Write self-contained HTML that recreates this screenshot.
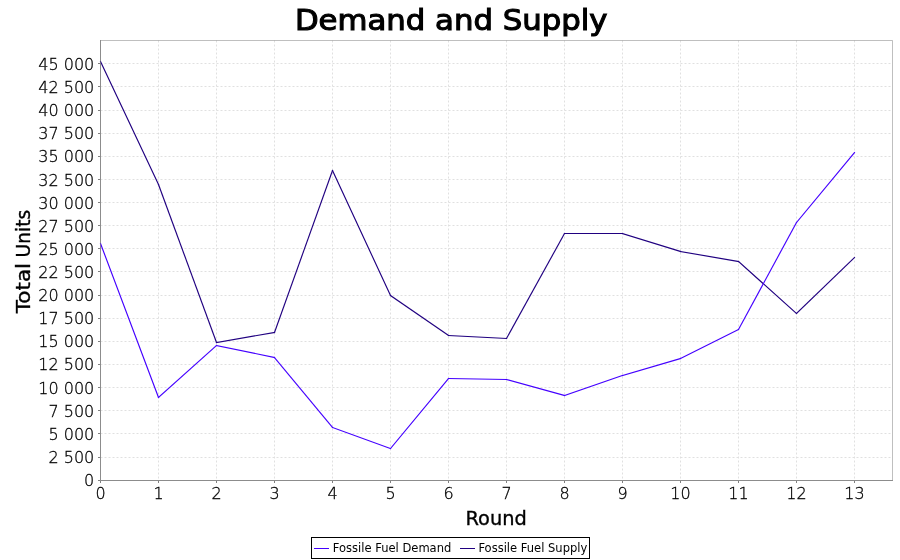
<!DOCTYPE html>
<html><head><meta charset="utf-8"><title>Demand and Supply</title>
<style>
html,body{margin:0;padding:0;background:#fff;}
svg{display:block;}
text{font-family:'DejaVu Sans', 'Liberation Sans', sans-serif;fill:#000;}
</style></head><body>
<svg width="900" height="560" viewBox="0 0 900 560">
<rect x="0" y="0" width="900" height="560" fill="#fff"/>
<text x="451.2" y="30" text-anchor="middle" font-size="29" stroke="#000" stroke-width="1.1" textLength="312.6" lengthAdjust="spacingAndGlyphs">Demand and Supply</text>

<g stroke="#e0e0e0" stroke-width="1" stroke-dasharray="2 2"><line x1="100.5" y1="63.5" x2="892" y2="63.5"/><line x1="100.5" y1="86.5" x2="892" y2="86.5"/><line x1="100.5" y1="110.5" x2="892" y2="110.5"/><line x1="100.5" y1="133.5" x2="892" y2="133.5"/><line x1="100.5" y1="156.5" x2="892" y2="156.5"/><line x1="100.5" y1="179.5" x2="892" y2="179.5"/><line x1="100.5" y1="202.5" x2="892" y2="202.5"/><line x1="100.5" y1="225.5" x2="892" y2="225.5"/><line x1="100.5" y1="248.5" x2="892" y2="248.5"/><line x1="100.5" y1="271.5" x2="892" y2="271.5"/><line x1="100.5" y1="295.5" x2="892" y2="295.5"/><line x1="100.5" y1="318.5" x2="892" y2="318.5"/><line x1="100.5" y1="341.5" x2="892" y2="341.5"/><line x1="100.5" y1="364.5" x2="892" y2="364.5"/><line x1="100.5" y1="387.5" x2="892" y2="387.5"/><line x1="100.5" y1="410.5" x2="892" y2="410.5"/><line x1="100.5" y1="433.5" x2="892" y2="433.5"/><line x1="100.5" y1="457.5" x2="892" y2="457.5"/>
<line x1="158.5" y1="40.5" x2="158.5" y2="480"/><line x1="216.5" y1="40.5" x2="216.5" y2="480"/><line x1="274.5" y1="40.5" x2="274.5" y2="480"/><line x1="332.5" y1="40.5" x2="332.5" y2="480"/><line x1="390.5" y1="40.5" x2="390.5" y2="480"/><line x1="448.5" y1="40.5" x2="448.5" y2="480"/><line x1="506.5" y1="40.5" x2="506.5" y2="480"/><line x1="564.5" y1="40.5" x2="564.5" y2="480"/><line x1="622.5" y1="40.5" x2="622.5" y2="480"/><line x1="680.5" y1="40.5" x2="680.5" y2="480"/><line x1="738.5" y1="40.5" x2="738.5" y2="480"/><line x1="796.5" y1="40.5" x2="796.5" y2="480"/><line x1="854.5" y1="40.5" x2="854.5" y2="480"/></g>
<g shape-rendering="crispEdges">
<rect x="100" y="40" width="1" height="441" fill="#989898"/>
<rect x="100" y="480" width="793" height="1" fill="#989898"/>
<rect x="98" y="63" width="2" height="1" fill="#808080"/>
<rect x="98" y="86" width="2" height="1" fill="#808080"/>
<rect x="98" y="110" width="2" height="1" fill="#808080"/>
<rect x="98" y="133" width="2" height="1" fill="#808080"/>
<rect x="98" y="156" width="2" height="1" fill="#808080"/>
<rect x="98" y="179" width="2" height="1" fill="#808080"/>
<rect x="98" y="202" width="2" height="1" fill="#808080"/>
<rect x="98" y="225" width="2" height="1" fill="#808080"/>
<rect x="98" y="248" width="2" height="1" fill="#808080"/>
<rect x="98" y="271" width="2" height="1" fill="#808080"/>
<rect x="98" y="295" width="2" height="1" fill="#808080"/>
<rect x="98" y="318" width="2" height="1" fill="#808080"/>
<rect x="98" y="341" width="2" height="1" fill="#808080"/>
<rect x="98" y="364" width="2" height="1" fill="#808080"/>
<rect x="98" y="387" width="2" height="1" fill="#808080"/>
<rect x="98" y="410" width="2" height="1" fill="#808080"/>
<rect x="98" y="433" width="2" height="1" fill="#808080"/>
<rect x="98" y="457" width="2" height="1" fill="#808080"/>
<rect x="98" y="480" width="2" height="1" fill="#808080"/>
<rect x="100" y="481" width="1" height="2" fill="#808080"/>
<rect x="158" y="481" width="1" height="2" fill="#808080"/>
<rect x="216" y="481" width="1" height="2" fill="#808080"/>
<rect x="274" y="481" width="1" height="2" fill="#808080"/>
<rect x="332" y="481" width="1" height="2" fill="#808080"/>
<rect x="390" y="481" width="1" height="2" fill="#808080"/>
<rect x="448" y="481" width="1" height="2" fill="#808080"/>
<rect x="506" y="481" width="1" height="2" fill="#808080"/>
<rect x="564" y="481" width="1" height="2" fill="#808080"/>
<rect x="622" y="481" width="1" height="2" fill="#808080"/>
<rect x="680" y="481" width="1" height="2" fill="#808080"/>
<rect x="738" y="481" width="1" height="2" fill="#808080"/>
<rect x="796" y="481" width="1" height="2" fill="#808080"/>
<rect x="854" y="481" width="1" height="2" fill="#808080"/>
</g>
<g font-size="16" text-anchor="end" font-weight="200" stroke="#000" stroke-width="0.3">
<text x="94.3" y="70" textLength="55.99" lengthAdjust="spacingAndGlyphs">45 000</text>
<text x="94.3" y="93" textLength="55.99" lengthAdjust="spacingAndGlyphs">42 500</text>
<text x="94.3" y="116" textLength="55.99" lengthAdjust="spacingAndGlyphs">40 000</text>
<text x="94.3" y="139" textLength="55.99" lengthAdjust="spacingAndGlyphs">37 500</text>
<text x="94.3" y="162" textLength="55.99" lengthAdjust="spacingAndGlyphs">35 000</text>
<text x="94.3" y="186" textLength="55.99" lengthAdjust="spacingAndGlyphs">32 500</text>
<text x="94.3" y="209" textLength="55.99" lengthAdjust="spacingAndGlyphs">30 000</text>
<text x="94.3" y="232" textLength="55.99" lengthAdjust="spacingAndGlyphs">27 500</text>
<text x="94.3" y="255" textLength="55.99" lengthAdjust="spacingAndGlyphs">25 000</text>
<text x="94.3" y="278" textLength="55.99" lengthAdjust="spacingAndGlyphs">22 500</text>
<text x="94.3" y="301" textLength="55.99" lengthAdjust="spacingAndGlyphs">20 000</text>
<text x="94.3" y="324" textLength="55.99" lengthAdjust="spacingAndGlyphs">17 500</text>
<text x="94.3" y="347" textLength="55.99" lengthAdjust="spacingAndGlyphs">15 000</text>
<text x="94.3" y="370" textLength="55.99" lengthAdjust="spacingAndGlyphs">12 500</text>
<text x="94.3" y="394" textLength="55.99" lengthAdjust="spacingAndGlyphs">10 000</text>
<text x="94.3" y="417" textLength="45.81" lengthAdjust="spacingAndGlyphs">7 500</text>
<text x="94.3" y="440" textLength="45.81" lengthAdjust="spacingAndGlyphs">5 000</text>
<text x="94.3" y="463" textLength="45.81" lengthAdjust="spacingAndGlyphs">2 500</text>
<text x="94.3" y="486" textLength="10.18" lengthAdjust="spacingAndGlyphs">0</text>
</g>
<g font-size="16" text-anchor="middle" font-weight="200" stroke="#000" stroke-width="0.3">
<text x="100.5" y="499" textLength="10.18" lengthAdjust="spacingAndGlyphs">0</text>
<text x="158.5" y="499" textLength="10.18" lengthAdjust="spacingAndGlyphs">1</text>
<text x="216.5" y="499" textLength="10.18" lengthAdjust="spacingAndGlyphs">2</text>
<text x="274.5" y="499" textLength="10.18" lengthAdjust="spacingAndGlyphs">3</text>
<text x="332.5" y="499" textLength="10.18" lengthAdjust="spacingAndGlyphs">4</text>
<text x="390.5" y="499" textLength="10.18" lengthAdjust="spacingAndGlyphs">5</text>
<text x="448.5" y="499" textLength="10.18" lengthAdjust="spacingAndGlyphs">6</text>
<text x="506.5" y="499" textLength="10.18" lengthAdjust="spacingAndGlyphs">7</text>
<text x="564.5" y="499" textLength="10.18" lengthAdjust="spacingAndGlyphs">8</text>
<text x="622.5" y="499" textLength="10.18" lengthAdjust="spacingAndGlyphs">9</text>
<text x="680.5" y="499" textLength="20.36" lengthAdjust="spacingAndGlyphs">10</text>
<text x="738.5" y="499" textLength="20.36" lengthAdjust="spacingAndGlyphs">11</text>
<text x="796.5" y="499" textLength="20.36" lengthAdjust="spacingAndGlyphs">12</text>
<text x="854.5" y="499" textLength="20.36" lengthAdjust="spacingAndGlyphs">13</text>
</g>
<text x="496.1" y="525" text-anchor="middle" font-size="20" textLength="61.3" lengthAdjust="spacingAndGlyphs" stroke="#000" stroke-width="0.35">Round</text>
<text transform="translate(30,0) rotate(-90)" font-size="20" stroke="#000" stroke-width="0.35"><tspan x="-313.2" textLength="50.3" lengthAdjust="spacingAndGlyphs">Total</tspan> <tspan x="-257.4" textLength="47.5" lengthAdjust="spacingAndGlyphs">Units</tspan></text>
<g stroke="#200080" stroke-width="1.15" stroke-linecap="square"><line x1="100.5" y1="61.5" x2="158.5" y2="184.5"/><line x1="158.5" y1="184.5" x2="216.5" y2="342.5"/><line x1="216.5" y1="342.5" x2="274.5" y2="332.5"/><line x1="274.5" y1="332.5" x2="332.5" y2="170.5"/><line x1="332.5" y1="170.5" x2="390.5" y2="295.5"/><line x1="390.5" y1="295.5" x2="448.5" y2="335.5"/><line x1="448.5" y1="335.5" x2="506.5" y2="338.5"/><line x1="506.5" y1="338.5" x2="564.5" y2="233.5"/><line x1="564.5" y1="233.5" x2="622.5" y2="233.5"/><line x1="622.5" y1="233.5" x2="680.5" y2="251.5"/><line x1="680.5" y1="251.5" x2="738.5" y2="261.5"/><line x1="738.5" y1="261.5" x2="796.5" y2="313.5"/><line x1="796.5" y1="313.5" x2="854.5" y2="257.5"/></g>
<g stroke="#4400ff" stroke-width="1.15" stroke-linecap="square"><line x1="100.5" y1="243.5" x2="158.5" y2="397.5"/><line x1="158.5" y1="397.5" x2="216.5" y2="345.5"/><line x1="216.5" y1="345.5" x2="274.5" y2="357.5"/><line x1="274.5" y1="357.5" x2="332.5" y2="427.5"/><line x1="332.5" y1="427.5" x2="390.5" y2="448.5"/><line x1="390.5" y1="448.5" x2="448.5" y2="378.5"/><line x1="448.5" y1="378.5" x2="506.5" y2="379.5"/><line x1="506.5" y1="379.5" x2="564.5" y2="395.5"/><line x1="564.5" y1="395.5" x2="622.5" y2="375.5"/><line x1="622.5" y1="375.5" x2="680.5" y2="358.5"/><line x1="680.5" y1="358.5" x2="738.5" y2="329.5"/><line x1="738.5" y1="329.5" x2="796.5" y2="222.5"/><line x1="796.5" y1="222.5" x2="854.5" y2="152.5"/></g>
<path d="M100.5 40.5H892.5V480.5H100.5Z" fill="none" stroke="#808080" stroke-opacity="0.5" stroke-width="1"/>
<rect x="311.5" y="537.5" width="278" height="21" fill="#fff" stroke="#000" stroke-width="1"/>
<line x1="314" y1="548.5" x2="329" y2="548.5" stroke="#4400ff" stroke-width="1"/>
<line x1="460" y1="548.5" x2="475" y2="548.5" stroke="#200080" stroke-width="1"/>
<text x="332.8" y="552" font-size="12" textLength="118.5" lengthAdjust="spacingAndGlyphs">Fossile Fuel Demand</text>
<text x="478.4" y="552" font-size="12" textLength="108.9" lengthAdjust="spacingAndGlyphs">Fossile Fuel Supply</text>
</svg></body></html>
